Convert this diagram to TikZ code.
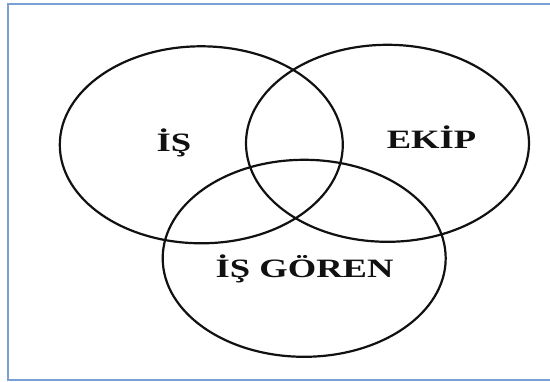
\documentclass[tikz,border=0pt]{standalone}
\usepackage{fontspec}
\setmainfont{Liberation Serif}
\usepackage{xcolor}
\usetikzlibrary{positioning,shapes.geometric}
\definecolor{vennframe}{HTML}{7A9FD4}
\definecolor{vennink}{HTML}{111111}
\newcommand{\vennword}[1]{\scalebox{1.38}[1]{#1}}

\begin{document}
\begin{tikzpicture}[
    x=1pt,y=-1pt,
    venn/.style={ellipse,draw=vennink,line width=2.2pt,
                 minimum width=283pt,minimum height=197pt,inner sep=0pt},
    vlabel/.style={anchor=base,inner sep=0pt,text=vennink,
                   font=\fontsize{26.5}{30}\selectfont\bfseries},
    frame/.style={draw=vennframe,line width=1.3pt},
  ]
    % page size and white paper
    \useasboundingbox (0,0) rectangle (550,382);
    \fill[white] (0,0) rectangle (550,382);

    % blue frame, open to the right
    \draw[frame] (552,4) -- (8,4) -- (8,380) -- (552,380);

    % the three sets
    \node[venn] (is)    at (201.3,144.8) {};
    \node[venn] (ekip)  at (387.5,143.3) {};
    \node[venn] (goren) at (304.2,258.3) {};

    % set names
    \node[vlabel] (islbl)    at (174.0,152) {\vennword{İŞ}};
    \node[vlabel] (ekiplbl)  at (431.5,149) {\vennword{EKİP}};
    \node[vlabel] (gorenlbl) at (304.6,278) {\vennword{İŞ GÖREN}};
  \end{tikzpicture}
\end{document}
